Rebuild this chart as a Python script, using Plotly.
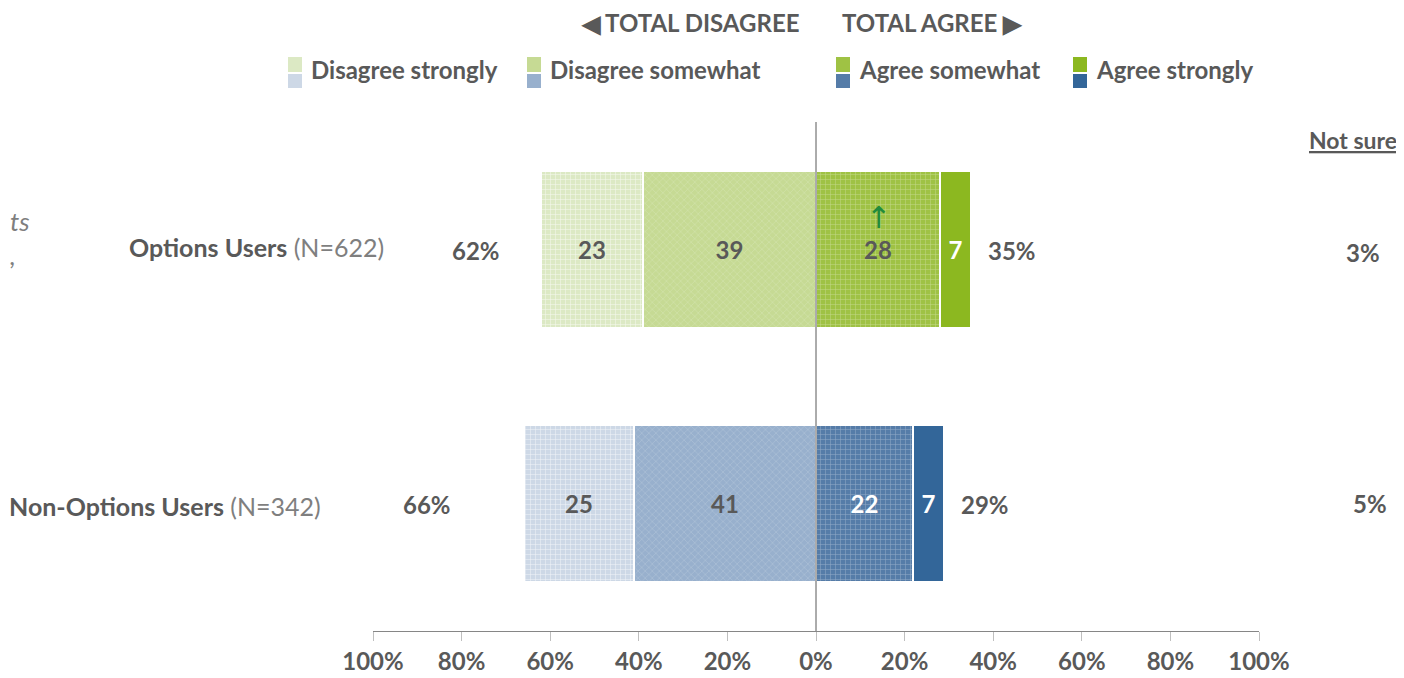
import plotly.graph_objects as go

# ---------------- data ----------------
categories = ["Options Users", "Non-Options Users"]
sample_sizes = ["(N=622)", "(N=342)"]
disagree_strongly = [23, 25]
disagree_somewhat = [39, 41]
agree_somewhat = [28, 22]
agree_strongly = [7, 7]
total_disagree = [62, 66]
total_agree = [35, 29]
not_sure = [3, 5]
tick_values = [-100, -80, -60, -40, -20, 0, 20, 40, 60, 80, 100]
tick_labels = ["100%", "80%", "60%", "40%", "20%", "0%", "20%", "40%", "60%", "80%", "100%"]
y_pos = [1, 0]

# ---------------- style ----------------
OFF = 8  # page body margin
W, H = 1404 - OFF, 678 - OFF
L, R, T, B = 373, 1259, 122, 631  # plot area in screenshot pixels
FONT = "Lato, Open Sans, sans-serif"
FS = 24
GRAY = "#595959"
GREEN = {"ds": "#dce9c4", "dsw": "#c6da94", "as": "#9fc244", "ast": "#8cb820"}
BLUE = {"ds": "#cdd8e6", "dsw": "#98b0cd", "as": "#557ca8", "ast": "#336699"}
PALETTES = [GREEN, BLUE]


def px(x):
    return (x - L) / (R - L)


def py(y):
    return (B - y) / (B - T)


fig = go.Figure()


def add_bar(vals, key, sign, pattern_shape, txtcolors, name, fgop):
    for i in range(len(vals)):
        col = PALETTES[i][key]
        pattern = dict(shape=pattern_shape, fgcolor="#ffffff", bgcolor=col, size=5,
                       solidity=0.2, fgopacity=fgop, fillmode="replace") if pattern_shape else None
        fig.add_trace(go.Bar(
            x=[sign * vals[i]], y=[y_pos[i]], orientation="h", name=name,
            width=0.616,
            marker=dict(color=col, line=dict(color="white", width=2), pattern=pattern),
            text=[str(vals[i])], textposition="inside",
            insidetextanchor="middle", constraintext="none",
            textfont=dict(family=FONT, size=FS, color=txtcolors[i], weight="bold"),
            hoverinfo="x+name", showlegend=False,
        ))


add_bar(disagree_somewhat, "dsw", -1, "x", [GRAY, GRAY], "Disagree somewhat", 0.25)
add_bar(disagree_strongly, "ds", -1, "+", [GRAY, GRAY], "Disagree strongly", 0.7)
add_bar(agree_somewhat, "as", 1, "+", [GRAY, "white"], "Agree somewhat", 0.35)
add_bar(agree_strongly, "ast", 1, "", ["white", "white"], "Agree strongly", 0.0)

shapes = []
annotations = []


def note(x, y, text, anchor="center", size=FS, color=GRAY, bold=True, family=FONT, align="center"):
    annotations.append(dict(xref="paper", yref="paper", x=px(x), y=py(y), xanchor=anchor,
                            yanchor="middle", text=text, showarrow=False, align=align,
                            font=dict(family=family, size=size, color=color,
                                      weight="bold" if bold else "normal")))


# zero line
shapes.append(dict(type="line", xref="x", yref="paper", x0=0, x1=0, y0=0, y1=1,
                   line=dict(color=GRAY, width=1)))

# header
note(801, 23, "◀ TOTAL DISAGREE", "right")
note(840, 23, "TOTAL AGREE ▶", "left")

# legend
legend_items = [("Disagree strongly", "ds", 288), ("Disagree somewhat", "dsw", 527),
                ("Agree somewhat", "as", 836), ("Agree strongly", "ast", 1073)]
for label, key, x0 in legend_items:
    shapes.append(dict(type="rect", xref="paper", yref="paper", x0=px(x0), x1=px(x0 + 14),
                       y0=py(72), y1=py(57), fillcolor=GREEN[key], line=dict(width=0)))
    shapes.append(dict(type="rect", xref="paper", yref="paper", x0=px(x0), x1=px(x0 + 14),
                       y0=py(88), y1=py(74), fillcolor=BLUE[key], line=dict(width=0)))
    note(x0 + 21, 70, label, "left")

# category labels
cat_right = [386, 323]
cat_y = [247, 506]
for i, c in enumerate(categories):
    note(cat_right[i], cat_y[i],
         f"<b>{c}</b> <span style='color:#7f7f7f'>{sample_sizes[i]}</span>",
         "right", size=25, bold=False)

# totals
dis_x = [476, 427]
for i in range(2):
    annotations.append(dict(xref="paper", yref="y", x=px(dis_x[i]), y=y_pos[i], yshift=-1,
                            xanchor="center", yanchor="middle",
                            text=f"{total_disagree[i]}%", showarrow=False,
                            font=dict(family=FONT, size=FS, color=GRAY, weight="bold")))
    annotations.append(dict(xref="x", yref="y", x=total_agree[i], y=y_pos[i], xshift=15,
                            yshift=-1, xanchor="left", yanchor="middle",
                            text=f"{total_agree[i]}%", showarrow=False,
                            font=dict(family=FONT, size=FS, color=GRAY, weight="bold")))

# not sure
note(1399, 140, "<u>Not sure</u>", "right", size=23)
ns_x = [1363, 1370]
ns_y = [252, 504]
for i in range(2):
    note(ns_x[i], ns_y[i], f"{not_sure[i]}%")

# significance arrow
annotations.append(dict(xref="x", yref="y", x=agree_somewhat[0] / 2, y=y_pos[0], yshift=32,
                        xanchor="center", yanchor="middle", text="↑", showarrow=False,
                        font=dict(family="DejaVu Sans", size=30, color="#228b3c")))

# clipped fragment of a side text at the left edge
note(8, 238, "<i>ts<br>,</i>", "left", size=26, color="#7f7f7f", bold=False, align="left")

fig.update_layout(
    width=W, height=H, barmode="relative", bargap=0,
    margin=dict(l=L - OFF, r=1404 - R, t=T - OFF, b=678 - B, pad=0, autoexpand=False),
    paper_bgcolor="white", plot_bgcolor="white",
    shapes=shapes, annotations=annotations, showlegend=False,
)
fig.update_xaxes(range=[-100, 100], tickvals=tick_values, ticktext=tick_labels,
                 showgrid=False, zeroline=False, showline=True, linecolor="#868686", linewidth=1,
                 ticks="outside", ticklen=9, tickcolor="#bfbfbf", automargin=False,
                 tickfont=dict(family=FONT, size=FS, color=GRAY, weight="bold"), fixedrange=True)
fig.update_yaxes(range=[-0.5, 1.5], showticklabels=False, showgrid=False, zeroline=False,
                 showline=False, fixedrange=True, automargin=False)

fig.write_html("out.html")
